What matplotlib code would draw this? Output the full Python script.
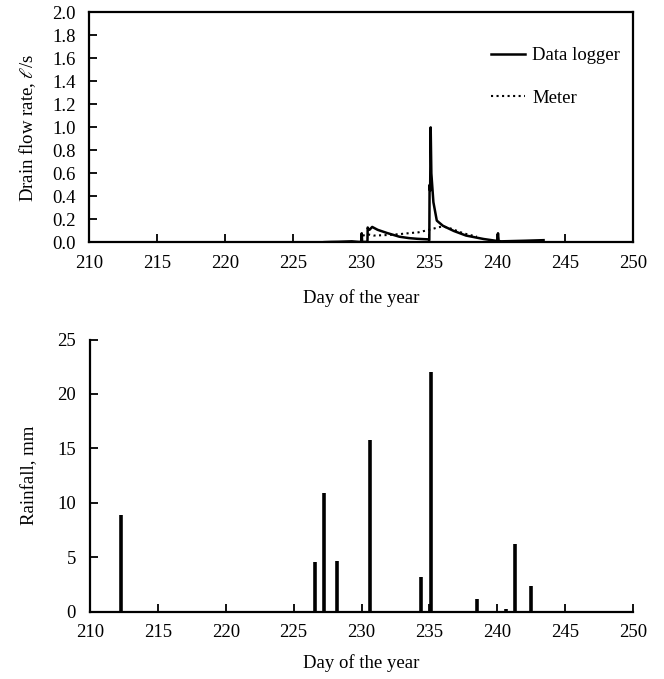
import matplotlib
matplotlib.use("Agg")
import matplotlib.pyplot as plt

plt.rcParams['font.family'] = ['Liberation Serif', 'DejaVu Serif']
plt.rcParams['mathtext.fontset'] = 'stix'

# Drain flow (top panel)
logger_day = [227.3, 227.8, 228.3, 228.8, 229.3, 229.8, 230.0, 230.03, 230.06, 230.45,
              230.47, 230.5, 230.6, 230.8, 231.2, 231.9, 232.8, 233.5, 234.1, 234.9,
              235.0, 235.02, 235.06, 235.1, 235.15, 235.3, 235.55, 236.0, 236.8, 237.7,
              239.0, 240.0, 240.05, 240.1, 240.3, 241.0, 242.0, 243.4]
logger_flow = [0.003, 0.005, 0.006, 0.008, 0.010, 0.005, 0.005, 0.08, 0.005, 0.005,
               0.13, 0.12, 0.11, 0.135, 0.11, 0.082, 0.05, 0.038, 0.032, 0.027,
               0.02, 0.50, 0.45, 1.00, 0.60, 0.35, 0.19, 0.145, 0.10, 0.06,
               0.03, 0.013, 0.08, 0.012, 0.010, 0.012, 0.015, 0.02]
meter_day = [230.1, 230.5, 230.9, 232.0, 232.85, 233.6, 234.2, 234.8, 235.3, 235.6,
             236.0, 236.6, 237.5, 238.5]
meter_flow = [0.06, 0.07, 0.06, 0.065, 0.073, 0.082, 0.088, 0.105, 0.12, 0.13,
              0.14, 0.12, 0.08, 0.05]

# Rainfall (bottom panel)
rain_day = [212.25, 226.6, 227.2, 228.2, 230.6, 234.35, 235.1, 238.5, 240.65, 241.3, 242.5]
rain_mm = [8.9, 4.6, 10.9, 4.65, 15.8, 3.25, 22.05, 1.2, 0.3, 6.25, 2.4]

xticks = [210, 215, 220, 225, 230, 235, 240, 245, 250]
flow_ticks = [0.0, 0.2, 0.4, 0.6, 0.8, 1.0, 1.2, 1.4, 1.6, 1.8, 2.0]
rain_ticks = [0, 5, 10, 15, 20, 25]

FS = 13.5
fig = plt.figure(figsize=(6.64, 6.79), dpi=100)

ax1 = fig.add_axes([0.1345, 0.6429, 0.8193, 0.339])
ax1.plot(logger_day, logger_flow, color='black', lw=1.8, label='Data logger')
ax1.plot(meter_day, meter_flow, color='black', lw=1.5, ls=':', label='Meter')
ax1.set_xlim(210, 250)
ax1.set_ylim(0, 2.0)
ax1.set_xticks(xticks)
ax1.set_yticks(flow_ticks)
ax1.set_yticklabels([f"{v:.1f}" for v in flow_ticks])
ax1.set_xlabel('Day of the year', fontsize=FS, labelpad=12)
ax1.set_ylabel(r'Drain flow rate, $\ell$/s', fontsize=FS, labelpad=10)
leg = ax1.legend(loc='upper right', bbox_to_anchor=(1.0, 0.905), frameon=False,
                 fontsize=FS, handlelength=1.8, handletextpad=0.4, labelspacing=1.35,
                 borderaxespad=0.3)

ax2 = fig.add_axes([0.1355, 0.0987, 0.818, 0.4013])
ax2.vlines(rain_day, 0, rain_mm, color='black', lw=2.6)
ax2.set_xlim(210, 250)
ax2.set_ylim(0, 25)
ax2.set_xticks(xticks)
ax2.set_yticks(rain_ticks)
ax2.set_xlabel('Day of the year', fontsize=FS, labelpad=9)
ax2.set_ylabel('Rainfall, mm', fontsize=FS, labelpad=14)
ax2.spines['top'].set_visible(False)
ax2.spines['right'].set_visible(False)

for ax in (ax1, ax2):
    ax.tick_params(direction='in', length=6, width=1.3, labelsize=FS)
    ax.tick_params(axis='x', pad=9)
    ax.tick_params(axis='y', pad=10)
    for s in ax.spines.values():
        s.set_linewidth(1.6)

fig.savefig('out.png', dpi=100)
